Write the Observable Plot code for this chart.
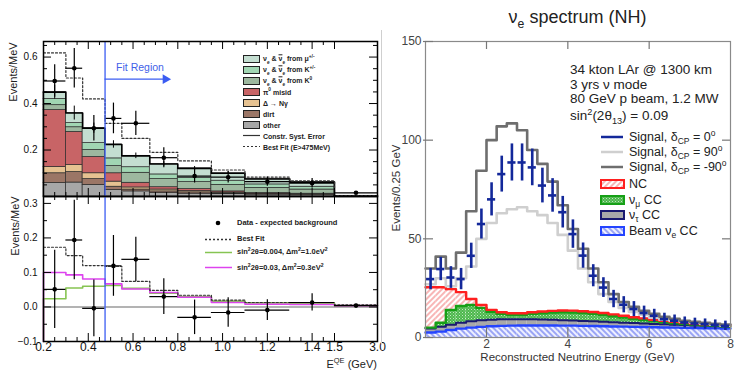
<!DOCTYPE html>
<html>
<head>
<meta charset="utf-8">
<script src="https://cdn.jsdelivr.net/npm/d3@7"></script>
<script src="https://cdn.jsdelivr.net/npm/@observablehq/plot@0.6"></script>
<style>
html,body{margin:0;padding:0;background:#fff;}
#root{position:relative;width:735px;height:370px;overflow:hidden;background:#fff;font-family:"Liberation Sans",Arial,Helvetica,sans-serif;}
#root > svg{position:absolute;left:0;top:0;}
.t{position:absolute;white-space:nowrap;line-height:1;}
.t sub,.t sup{font-size:68%;line-height:0;}
.ob{text-decoration:overline;}
</style>
</head>
<body>
<div id="root"></div>
<script>
// ================= LEFT FIGURE (MiniBooNE-style) =================
const mbEdges   = [0.2, 0.3, 0.375, 0.475, 0.55, 0.675, 0.8, 0.95, 1.1, 1.3, 1.5, 3.0];
const mbCenters = [0.25, 0.3375, 0.425, 0.5125, 0.6125, 0.7375, 0.875, 1.025, 1.2, 1.4, 2.25];
// stacked predictions (bottom -> top), Events/MeV
const mbOther = [0.058, 0.060, 0.050, 0.028, 0.022, 0.015, 0.012, 0.010, 0.008, 0.007, 0.0010];
const mbDirt  = [0.042, 0.045, 0.025, 0.014, 0.008, 0.007, 0.006, 0.003, 0.002, 0.001, 0.0005];
const mbDelta = [0.027, 0.030, 0.025, 0.022, 0.009, 0.008, 0.006, 0.004, 0.002, 0.002, 0.0005];
const mbPi0   = [0.245, 0.143, 0.070, 0.036, 0.020, 0.010, 0.008, 0.005, 0.003, 0.002, 0.0002];
const mbNuK0  = [0.021, 0.020, 0.030, 0.031, 0.043, 0.035, 0.030, 0.028, 0.022, 0.018, 0.0004];
const mbNuKpm = [0.027, 0.018, 0.030, 0.033, 0.024, 0.020, 0.018, 0.018, 0.015, 0.012, 0.0002];
const mbNuMu  = [0.029, 0.043, 0.064, 0.060, 0.049, 0.045, 0.041, 0.032, 0.023, 0.020, 0.0002];
const mbSyst  = [0.030, 0.030, 0.022, 0.016, 0.012, 0.010, 0.008, 0.006, 0.005, 0.004, 0.0];
const mbData    = [0.497, 0.552, 0.294, 0.336, 0.315, 0.167, 0.088, 0.083, 0.064, 0.057, 0.016];
const mbDataErr = [0.070, 0.085, 0.055, 0.066, 0.052, 0.043, 0.030, 0.025, 0.020, 0.020, 0.006];
const mbBestFit = [0.618, 0.510, 0.420, 0.315, 0.250, 0.190, 0.153, 0.114, 0.083, 0.067, 0.004];
// lower panel: data - expected background
const mbExcess      = [0.051, 0.194, -0.004, 0.119, 0.138, 0.030, -0.030, -0.016, -0.009, 0.013, 0.004];
const mbExcessErr   = [0.113, 0.115, 0.082, 0.088, 0.064, 0.052, 0.050, 0.043, 0.030, 0.025, 0.004];
const mbExcessFit   = [0.173, 0.149, 0.120, 0.118, 0.074, 0.048, 0.034, 0.020, 0.013, 0.013, 0.006];
const mbModelGreen  = [0.024, 0.055, 0.060, 0.062, 0.054, 0.040, 0.030, 0.017, 0.012, 0.011, 0.004];
const mbModelMagenta= [0.100, 0.093, 0.081, 0.067, 0.052, 0.042, 0.028, 0.013, 0.008, 0.007, 0.004];
const mbXTicks      = [0.2, 0.4, 0.6, 0.8, 1.0, 1.2, 1.4, 1.5, 3.0];
const mbTopYTicks   = [0.2, 0.4, 0.6];
const mbBotYTicks   = [-0.1, 0.0, 0.1, 0.2, 0.3];

const mbCompNames  = ["other", "dirt", "delta", "pi0", "nuK0", "nuKpm", "nuMu"];
const mbCompValues = [mbOther, mbDirt, mbDelta, mbPi0, mbNuK0, mbNuKpm, mbNuMu];
const mbCompColors = ["#a7a7a7", "#9b7666", "#e6c291", "#c86466", "#9db89f", "#a1d6b3", "#c4ded1"];

// ================= RIGHT FIGURE (nu_e spectrum) =================
const rEdges = [0.5,0.75,1.0,1.25,1.5,1.75,2.0,2.25,2.5,2.75,3.0,3.25,3.5,3.75,4.0,4.25,4.5,4.75,5.0,5.25,5.5,5.75,6.0,6.25,6.5,6.75,7.0,7.25,7.5,7.75,8.0];
const sigDcp0    = [29.6,34.7,30.4,29.6,41.4,57.5,70.0,82.8,88.7,88.7,86.2,77.0,72.0,63.5,52.4,41.5,31.3,25.3,19.5,16.6,14.4,12.4,11.0,9.3,8.5,7.6,7.1,6.8,6.4,5.9];
const sigDcp0Err = [5.4,5.9,5.5,5.4,6.4,7.6,8.4,9.1,9.4,9.4,9.3,8.8,8.5,8.0,7.2,6.4,5.6,5.0,4.4,4.1,3.8,3.5,3.3,3.0,2.9,2.8,2.7,2.6,2.5,2.4];
const sigDcp90   = [27,30,26,30,36,50,58,63,65,66,64,62,58,52,44,35,28,22,18,15,13,11.5,10,9,8.5,8,7.5,7,6.5,6];
const sigDcpM90  = [35,41,35,43,64,84.5,100,107,108.5,105,95,88,79,67,55,45,35,28,22,18,15.5,13.5,12,10.5,9.5,8.5,8,7.5,7,6.5];
const bkgBeamNue = [2.5,3.0,3.8,4.5,5.0,5.4,5.7,5.9,6.0,6.1,6.1,6.1,6.1,6.0,6.0,5.9,5.8,5.7,5.6,5.5,5.4,5.3,5.2,5.1,5.0,4.9,4.8,4.7,4.6,4.5];
const bkgNutauCC = [2.0,2.5,2.7,3.0,3.2,3.3,3.3,3.3,3.3,3.2,3.1,3.0,2.9,2.8,2.6,2.5,2.4,2.3,2.1,2.0,1.9,1.8,1.7,1.6,1.5,1.4,1.3,1.2,1.1,1.0];
const bkgNumuCC  = [0.5,2.0,7.5,8.5,8.3,6.3,4.0,2.8,2.2,2.2,2.8,3.2,3.6,4.0,4.1,4.0,3.8,3.5,3.1,2.6,2.2,1.8,1.4,1.0,0.7,0.5,0.4,0.3,0.3,0.2];
const bkgNC      = [20.5,18.0,10.5,7.0,3.0,1.5,1.0,0.8,0.8,0.8,0.8,0.9,0.9,0.9,0.9,0.9,0.9,0.9,0.9,0.9,0.8,0.8,0.7,0.7,0.7,0.6,0.5,0.5,0.4,0.4];
const rXTicks = [2, 4, 6, 8];
const rYTicks = [0, 50, 100, 150];

// ---------------- helpers ----------------
const root = document.getElementById("root");
const FONT = '"Liberation Sans", Arial, Helvetica, sans-serif';
function stepPts(edges, vals) {
  const p = vals.map((v, i) => ({x: edges[i], y: v}));
  p.push({x: edges[edges.length - 1], y: vals[vals.length - 1]});
  return p;
}
function addText(html, x, y, o = {}) {
  const d = document.createElement("div");
  d.className = "t";
  d.innerHTML = html;
  const ax = o.anchor === "start" ? "0%" : o.anchor === "end" ? "-100%" : "-50%";
  d.style.left = x + "px";
  d.style.top = y + "px";
  d.style.fontSize = (o.size || 12) + "px";
  if (o.weight) d.style.fontWeight = o.weight;
  d.style.color = o.color || "#111";
  d.style.transform = `translate(${ax},-50%)` + (o.rotate ? ` rotate(${o.rotate}deg)` : "");
  if (o.rotate) d.style.transformOrigin = "50% 50%";
  root.appendChild(d);
}
function addSvg(html, x, y, w, h) {
  const ns = "http://www.w3.org/2000/svg";
  const s = document.createElementNS(ns, "svg");
  s.setAttribute("width", w); s.setAttribute("height", h);
  s.style.position = "absolute"; s.style.left = x + "px"; s.style.top = y + "px"; s.style.overflow = "visible";
  s.innerHTML = html;
  root.appendChild(s);
}
function frameTicks({xMaj = [], xMin = [], yMaj = [], yMin = [], W, H, maj = 7, min = 4, stroke = "#000", sw = 1}) {
  return [
    Plot.tickX(xMaj, {x: d => d, insetTop: H - maj, stroke, strokeWidth: sw}),
    Plot.tickX(xMin, {x: d => d, insetTop: H - min, stroke, strokeWidth: sw}),
    Plot.tickX(xMaj, {x: d => d, insetBottom: H - maj, stroke, strokeWidth: sw}),
    Plot.tickX(xMin, {x: d => d, insetBottom: H - min, stroke, strokeWidth: sw}),
    Plot.tickY(yMaj, {y: d => d, insetRight: W - maj, stroke, strokeWidth: sw}),
    Plot.tickY(yMin, {y: d => d, insetRight: W - min, stroke, strokeWidth: sw}),
    Plot.tickY(yMaj, {y: d => d, insetLeft: W - maj, stroke, strokeWidth: sw}),
    Plot.tickY(yMin, {y: d => d, insetLeft: W - min, stroke, strokeWidth: sw})
  ];
}

// ---------------- pattern defs ----------------
addSvg(`<defs>
 <pattern id="hRed" patternUnits="userSpaceOnUse" width="4" height="4" patternTransform="rotate(45)">
   <rect width="4" height="4" fill="#fff"/><line x1="1" y1="0" x2="1" y2="4" stroke="#f37a7a" stroke-width="1.1"/></pattern>
 <pattern id="hBlue" patternUnits="userSpaceOnUse" width="4" height="4" patternTransform="rotate(-45)">
   <rect width="4" height="4" fill="#eef0ff"/><line x1="1" y1="0" x2="1" y2="4" stroke="#5566ee" stroke-width="1.1"/></pattern>
 <pattern id="dGreen" patternUnits="userSpaceOnUse" width="3" height="3">
   <rect width="3" height="3" fill="#4cb84c"/><rect width="1" height="1" fill="#bfe8bf"/><rect x="1.5" y="1.5" width="1" height="1" fill="#9fd89f"/></pattern>
</defs>`, 0, 0, 0, 0);

// ---------------- left data records ----------------
const mbBins = mbCenters.map((c, i) => ({
  c, x1: mbEdges[i], x2: mbEdges[i + 1],
  data: mbData[i], dataErr: mbDataErr[i], syst: mbSyst[i],
  ex: mbExcess[i], exErr: mbExcessErr[i]
}));
const mbStack = [];
mbBins.forEach((b, i) => {
  let cum = 0;
  mbCompNames.forEach((name, k) => {
    const v = mbCompValues[k][i];
    mbStack.push({x1: b.x1, x2: b.x2, y1: cum, y2: cum + v, comp: name});
    cum += v;
  });
  b.total = cum;
});
const mbTotals = mbBins.map(b => b.total);

const leftX = {type: "linear", domain: [0.2, 1.5, 3.0], range: [43, 334, 377]};
const minorTop = d3.range(0.25, 1.5, 0.05).filter(v => !mbXTicks.some(t => Math.abs(t - v) < 1e-6));
const styleBase = {background: "transparent", overflow: "visible", fontFamily: FONT, color: "#111"};

// ---- left top panel ----
const leftTop = Plot.plot({
  width: 380, height: 370, marginLeft: 43, marginRight: 3, marginTop: 41, marginBottom: 174,
  x: {...leftX, axis: null},
  y: {domain: [0, 0.667]},
  color: {domain: mbCompNames, range: mbCompColors},
  style: {...styleBase, fontSize: "10px"},
  marks: [
    Plot.rectY(mbStack, {x1: "x1", x2: "x2", y1: "y1", y2: "y2", fill: "comp", stroke: "#2a2a2a", strokeWidth: 0.7}),
    Plot.line(stepPts(mbEdges, mbTotals), {x: "x", y: "y", curve: "step-after", stroke: "#000", strokeWidth: 1.6}),
    Plot.line(stepPts(mbEdges, mbBestFit), {x: "x", y: "y", curve: "step-after", stroke: "#333", strokeWidth: 1.2, strokeDasharray: "2,2"}),
    Plot.ruleX(mbBins, {x: "c", y1: d => d.total - d.syst, y2: d => d.total + d.syst, stroke: "#000", strokeWidth: 1}),
    Plot.ruleX(mbBins, {x: "c", y1: d => d.data - d.dataErr, y2: d => d.data + d.dataErr, stroke: "#000", strokeWidth: 1.2}),
    Plot.ruleY(mbBins, {x1: "x1", x2: "x2", y: "data", stroke: "#000", strokeWidth: 1.2}),
    Plot.dot(mbBins, {x: "c", y: "data", r: 2.3, fill: "#000"}),
    Plot.ruleX([0.475], {stroke: "#3b5cf2", strokeWidth: 1.3}),
    Plot.ruleY([{x1: 0.475, x2: 0.74, y: 0.505}], {x1: "x1", x2: "x2", y: "y", stroke: "#3b5cf2", strokeWidth: 1.3}),
    Plot.dot([{x: 0.745, y: 0.505}], {x: "x", y: "y", symbol: "triangle", rotate: 90, r: 3.6, fill: "#3b5cf2", stroke: "none"}),
    Plot.frame({stroke: "#000", strokeWidth: 1.5}),
    ...frameTicks({xMaj: mbXTicks, xMin: minorTop, yMaj: mbTopYTicks, yMin: [0.05,0.1,0.15,0.25,0.3,0.35,0.45,0.5,0.55,0.65], W: 334, H: 155, maj: 8, min: 4}),
    Plot.axisY(mbTopYTicks, {tickSize: 0, tickPadding: 6, tickFormat: d3.format(".1f"), label: null, fontSize: 10})
  ]
});
root.appendChild(leftTop);

// ---- left bottom panel ----
const leftBottom = Plot.plot({
  width: 380, height: 370, marginLeft: 43, marginRight: 3, marginTop: 196, marginBottom: 29,
  x: leftX,
  y: {domain: [-0.1, 0.32]},
  style: {...styleBase, fontSize: "10px"},
  marks: [
    Plot.ruleY([0], {stroke: "#9a9a9a", strokeWidth: 1.4}),
    Plot.line([{x: 0.2, y: -0.1}, ...stepPts(mbEdges, mbModelGreen)], {x: "x", y: "y", curve: "step-after", stroke: "#86c452", strokeWidth: 1.6}),
    Plot.line([{x: 0.2, y: -0.1}, ...stepPts(mbEdges, mbModelMagenta)], {x: "x", y: "y", curve: "step-after", stroke: "#dd44ee", strokeWidth: 1.6}),
    Plot.line(stepPts(mbEdges, mbExcessFit), {x: "x", y: "y", curve: "step-after", stroke: "#333", strokeWidth: 1.2, strokeDasharray: "2,2"}),
    Plot.ruleX(mbBins, {x: "c", y1: d => d.ex - d.exErr, y2: d => d.ex + d.exErr, stroke: "#000", strokeWidth: 1.2}),
    Plot.ruleY(mbBins, {x1: "x1", x2: "x2", y: "ex", stroke: "#000", strokeWidth: 1.2}),
    Plot.dot(mbBins, {x: "c", y: "ex", r: 2.3, fill: "#000"}),
    Plot.ruleX([0.475], {stroke: "#3b5cf2", strokeWidth: 1.3}),
    Plot.frame({stroke: "#000", strokeWidth: 1.5}),
    ...frameTicks({xMaj: mbXTicks, xMin: minorTop, yMaj: mbBotYTicks, yMin: [-0.05,0.05,0.15,0.25], W: 334, H: 145, maj: 8, min: 4}),
    Plot.axisY(mbBotYTicks, {tickSize: 0, tickPadding: 6, tickFormat: d3.format(".1f"), label: null, fontSize: 10}),
    Plot.axisX(mbXTicks, {tickSize: 0, tickPadding: 1, tickFormat: d3.format(".1f"), label: null, fontSize: 12})
  ]
});
root.appendChild(leftBottom);

// ---- right panel ----
const rBins = sigDcp0.map((v, i) => {
  const lo = rEdges[i], hi = rEdges[i + 1];
  const t1 = bkgBeamNue[i], t2 = t1 + bkgNutauCC[i], t3 = t2 + bkgNumuCC[i], t4 = t3 + bkgNC[i];
  return {lo, hi, c: (lo + hi) / 2, v, e: sigDcp0Err[i], t1, t2, t3, t4};
});
const right = Plot.plot({
  width: 735, height: 370, marginLeft: 425, marginRight: 5, marginTop: 41, marginBottom: 33,
  x: {domain: [0.5, 8]},
  y: {domain: [0, 150]},
  style: {...styleBase, fontSize: "12px", color: "#444"},
  marks: [
    Plot.rectY(rBins, {x1: "lo", x2: "hi", y1: 0, y2: "t1", fill: "url(#hBlue)"}),
    Plot.rectY(rBins, {x1: "lo", x2: "hi", y1: "t1", y2: "t2", fill: "#a9a9a9"}),
    Plot.rectY(rBins, {x1: "lo", x2: "hi", y1: "t2", y2: "t3", fill: "url(#dGreen)"}),
    Plot.rectY(rBins, {x1: "lo", x2: "hi", y1: "t3", y2: "t4", fill: "url(#hRed)"}),
    Plot.line(stepPts(rEdges, rBins.map(d => d.t1)), {x: "x", y: "y", curve: "step-after", stroke: "#2444ff", strokeWidth: 2.4}),
    Plot.line(stepPts(rEdges, rBins.map(d => d.t2)), {x: "x", y: "y", curve: "step-after", stroke: "#1a1a70", strokeWidth: 2}),
    Plot.line(stepPts(rEdges, rBins.map(d => d.t3)), {x: "x", y: "y", curve: "step-after", stroke: "#16a016", strokeWidth: 2.4}),
    Plot.line(stepPts(rEdges, rBins.map(d => d.t4)), {x: "x", y: "y", curve: "step-after", stroke: "#ff1f1f", strokeWidth: 2.4}),
    Plot.line(stepPts(rEdges, sigDcp90), {x: "x", y: "y", curve: "step-after", stroke: "#cfcfcf", strokeWidth: 2.6}),
    Plot.line(stepPts(rEdges, sigDcpM90), {x: "x", y: "y", curve: "step-after", stroke: "#6e6e6e", strokeWidth: 2.6}),
    Plot.ruleX(rBins, {x: "c", y1: d => d.v - d.e, y2: d => d.v + d.e, stroke: "#13289a", strokeWidth: 2.6}),
    Plot.ruleY(rBins, {x1: d => d.c - 0.1, x2: d => d.c + 0.1, y: "v", stroke: "#13289a", strokeWidth: 2.6}),
    Plot.frame({stroke: "#8a8a8a", strokeWidth: 1.2}),
    Plot.tickY(rYTicks, {y: d => d, insetRight: 305 - 8, insetLeft: -2, stroke: "#777", strokeWidth: 1.2}),
    Plot.tickY([50, 100], {y: d => d, insetLeft: 305 - 8, stroke: "#777", strokeWidth: 1.2}),
    Plot.tickX([2, 4, 6], {x: d => d, insetBottom: 296 - 8, stroke: "#777", strokeWidth: 1.2}),
    Plot.tickX([2, 4, 6], {x: d => d, insetTop: 296 - 10, stroke: "#777", strokeWidth: 1.2}),
    Plot.axisX(rXTicks, {tickSize: 0, tickPadding: 2, label: null, fontSize: 12}),
    Plot.axisY(rYTicks, {tickSize: 0, tickPadding: 4, label: null, fontSize: 12})
  ]
});
root.appendChild(right);

// ---------------- text & legends ----------------
// separator
const sep = document.createElement("div");
sep.style.cssText = "position:absolute;left:381px;top:30px;width:1px;height:315px;background:#cfcfcf;";
root.appendChild(sep);

// left
addText("Events/MeV", 12.5, 72, {size: 11, rotate: -90, color: "#222"});
addText("Events/MeV", 15, 226, {size: 11, rotate: -90, color: "#222"});
addText("E<sup>QE</sup> (GeV)", 377, 364, {size: 11, anchor: "end", color: "#222"});
addText("Fit Region", 140, 67, {size: 10.5, color: "#3f5fe8"});

const nuPair = 'ν<sub>e</sub> &amp; <span class="ob">ν</span><sub>e</sub> from ';
const topLegend = [
  {kind: "box", fill: mbCompColors[6], label: nuPair + "μ<sup>+/-</sup>"},
  {kind: "box", fill: mbCompColors[5], label: nuPair + "K<sup>+/-</sup>"},
  {kind: "box", fill: mbCompColors[4], label: nuPair + "K<sup>0</sup>"},
  {kind: "box", fill: mbCompColors[3], label: "π<sup>0</sup> misid"},
  {kind: "box", fill: mbCompColors[2], label: "Δ → Nγ"},
  {kind: "box", fill: mbCompColors[1], label: "dirt"},
  {kind: "box", fill: mbCompColors[0], label: "other"},
  {kind: "line", dash: null, label: "Constr. Syst. Error"},
  {kind: "line", dash: "2,2", label: "Best Fit (E&gt;475MeV)"}
];
const topLegendY = [58.5, 69.5, 80.5, 92, 103, 113.5, 125, 135.7, 146.7];
topLegend.forEach((it, i) => {
  const y = topLegendY[i];
  if (it.kind === "box") addSvg(`<rect x="0.5" y="0.5" width="16" height="7" fill="${it.fill}" stroke="#222" stroke-width="1"/>`, 243, y - 4, 17, 8);
  else addSvg(`<line x1="0" y1="1.5" x2="17" y2="1.5" stroke="#333" stroke-width="1.2" ${it.dash ? `stroke-dasharray="${it.dash}"` : ""}/>`, 243, y - 1.5, 17, 3);
  addText(it.label, 263, y, {size: 7, weight: "bold", anchor: "start", color: "#222"});
});

const botLegend = [
  {kind: "dot", label: "Data - expected background", y: 222.7},
  {kind: "line", stroke: "#333", dash: "2,2", label: "Best Fit", y: 239},
  {kind: "line", stroke: "#86c452", label: "sin<sup>2</sup>2θ=0.004, Δm<sup>2</sup>=1.0eV<sup>2</sup>", y: 252},
  {kind: "line", stroke: "#dd44ee", label: "sin<sup>2</sup>2θ=0.03, Δm<sup>2</sup>=0.3eV<sup>2</sup>", y: 267.5}
];
botLegend.forEach(it => {
  if (it.kind === "dot") addSvg(`<circle cx="3" cy="3" r="2.3" fill="#000"/>`, 215, it.y - 3, 6, 6);
  else addSvg(`<line x1="0" y1="1.5" x2="27" y2="1.5" stroke="${it.stroke}" stroke-width="1.5" ${it.dash ? `stroke-dasharray="${it.dash}"` : ""}/>`, 205, it.y - 1.5, 27, 3);
  addText(it.label, 237, it.y, {size: 7.5, weight: "bold", anchor: "start", color: "#222"});
});

// right
addText("ν<sub>e</sub> spectrum (NH)", 577.5, 17, {size: 18, color: "#222"});
addText("Reconstructed Neutrino Energy (GeV)", 577.5, 358, {size: 11.5, color: "#333"});
addText("Events/0.25 GeV", 397, 188, {size: 11.5, rotate: -90, color: "#333"});
const infoLines = ["34 kton LAr @ 1300 km", "3 yrs ν mode", "80 GeV p beam, 1.2 MW", "sin<sup>2</sup>(2θ<sub>13</sub>) = 0.09"];
const infoY = [69.5, 84.5, 99, 115.5];
infoLines.forEach((s, i) => addText(s, 570, infoY[i], {size: 13.5, anchor: "start", color: "#222"}));

const sigLegend = [
  {stroke: "#13289a", label: "Signal, δ<sub>CP</sub> = 0<sup>o</sup>"},
  {stroke: "#cfcfcf", label: "Signal, δ<sub>CP</sub> = 90<sup>o</sup>"},
  {stroke: "#6e6e6e", label: "Signal, δ<sub>CP</sub> = -90<sup>o</sup>"}
];
const sigLegendY = [137, 152, 167];
sigLegend.forEach((it, i) => {
  addSvg(`<line x1="0" y1="2" x2="22" y2="2" stroke="${it.stroke}" stroke-width="2.5"/>`, 601, sigLegendY[i] - 2, 22, 4);
  addText(it.label, 629, sigLegendY[i], {size: 12.5, anchor: "start", color: "#222"});
});
const bkgLegend = [
  {fill: "url(#hRed)", stroke: "#ff1f1f", label: "NC"},
  {fill: "url(#dGreen)", stroke: "#16a016", label: "ν<sub>μ</sub> CC"},
  {fill: "#a9a9a9", stroke: "#1a1a70", label: "ν<sub>τ</sub> CC"},
  {fill: "url(#hBlue)", stroke: "#2444ff", label: "Beam ν<sub>e</sub> CC"}
];
const bkgLegendY = [184, 199.7, 215.3, 231];
bkgLegend.forEach((it, i) => {
  addSvg(`<rect x="1" y="1" width="23" height="8" fill="${it.fill}" stroke="${it.stroke}" stroke-width="2"/>`, 600, bkgLegendY[i] - 5, 25, 10);
  addText(it.label, 629, bkgLegendY[i], {size: 12.5, anchor: "start", color: "#222"});
});
</script>
</body>
</html>
